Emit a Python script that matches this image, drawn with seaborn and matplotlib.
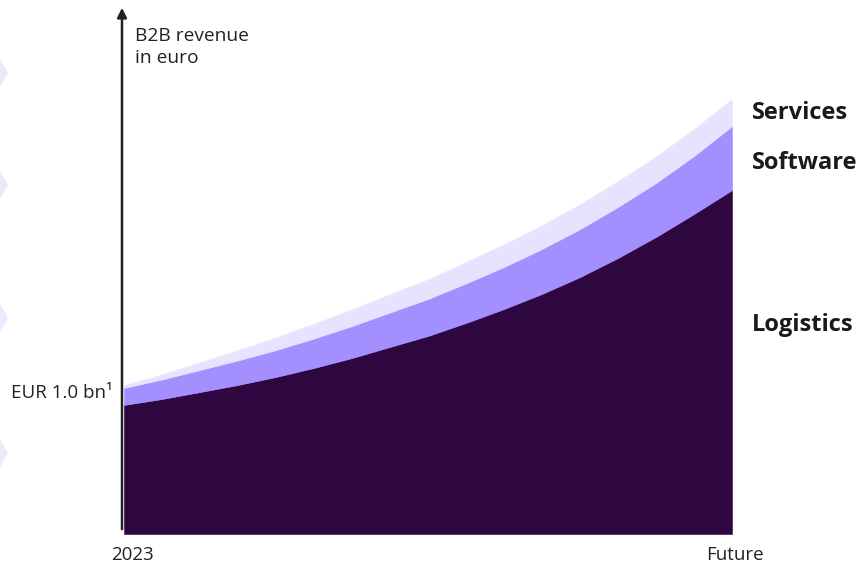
import matplotlib
matplotlib.use("Agg")
import matplotlib.pyplot as plt
from matplotlib.patches import Polygon, FancyArrowPatch
import pandas as pd
import seaborn as sns

# Revenue build-up from 2023 towards the future (EUR bn, stacked)
steps = list(range(17))
logistics = [0.872, 0.912, 0.959, 1.007, 1.061, 1.122, 1.189, 1.264, 1.338,
             1.426, 1.520, 1.622, 1.736, 1.865, 2.007, 2.162, 2.324]
software = [0.115, 0.132, 0.149, 0.166, 0.182, 0.199, 0.216, 0.233, 0.250,
            0.267, 0.284, 0.304, 0.324, 0.345, 0.365, 0.392, 0.432]
services = [0.014, 0.030, 0.047, 0.064, 0.081, 0.095, 0.108, 0.118, 0.128,
            0.139, 0.149, 0.155, 0.162, 0.169, 0.172, 0.176, 0.176]
segment_names = ["Logistics", "Software", "Services"]
segment_colors = ["#2e0640", "#a48fff", "#e8e2ff"]
start_label = "EUR 1.0 bn\u00b9"
axis_title = "B2B revenue\nin euro"
x_start_label, x_end_label = "2023", "Future"

sns.set_theme(style="white")
plt.rcParams["font.family"] = ["Open Sans", "DejaVu Sans"]

W, H = 866, 567
fig = plt.figure(figsize=(W / 100, H / 100), dpi=100)

# axes placed in pixel terms
left_px, right_px, bottom_px, top_px = 124, 732, 534, 8
ax = fig.add_axes([left_px / W, 1 - bottom_px / H,
                   (right_px - left_px) / W, (bottom_px - top_px) / H])

df = pd.DataFrame({"step": steps, "Logistics": logistics,
                   "Software": software, "Services": services})

# stacked layers: each band filled between the running totals
cum = df[segment_names].cumsum(axis=1)
lower = [0.0] * len(steps)
for name, col in zip(segment_names, segment_colors):
    ax.fill_between(df["step"], lower, cum[name], color=col,
                    edgecolor=col, linewidth=0.4)
    lower = cum[name]

# upper contour of the whole stack, drawn via seaborn
sns.lineplot(x=df["step"], y=cum["Services"], color=segment_colors[2],
             linewidth=0.6, ax=ax)

ymax = (bottom_px - top_px) / 148.0
ax.set_xlim(steps[0], steps[-1])
ax.set_ylim(0, ymax)
ax.set_xticks([])
ax.set_yticks([])
ax.set_xlabel("")
ax.set_ylabel("")
for s in ax.spines.values():
    s.set_visible(False)


def fx(px):
    return px / W


def fy(py):
    return 1 - py / H


# vertical value axis with arrow head
fig.add_artist(FancyArrowPatch(
    (fx(122), fy(532)), (fx(122), fy(5)), transform=fig.transFigure,
    arrowstyle="-|>", mutation_scale=14, lw=1.8, color="#222222"))

# decorative chevrons on the left border
for yc in [73, 185, 318, 453]:
    fig.add_artist(Polygon([(fx(0), fy(yc - 14)), (fx(8), fy(yc)), (fx(0), fy(yc + 14))],
                           closed=True, transform=fig.transFigure,
                           facecolor="#ece8fd", edgecolor="none"))

text_color = "#222222"
fig.text(fx(135), fy(27), axis_title, ha="left", va="top", fontsize=13.8,
         color=text_color, linespacing=1.3)
fig.text(fx(113), fy(393), start_label, ha="right", va="center", fontsize=13.5,
         color=text_color)
fig.text(fx(132), fy(555), x_start_label, ha="center", va="center", fontsize=13.5,
         color=text_color)
fig.text(fx(735), fy(555), x_end_label, ha="center", va="center", fontsize=13.5,
         color=text_color)

for name, ypx in zip(["Services", "Software", "Logistics"], [113, 163, 325]):
    fig.text(fx(752), fy(ypx), name, ha="left", va="center", fontsize=17,
             fontweight="bold", color="#1a1a1a")

fig.savefig("out.png", dpi=100, facecolor="white")
